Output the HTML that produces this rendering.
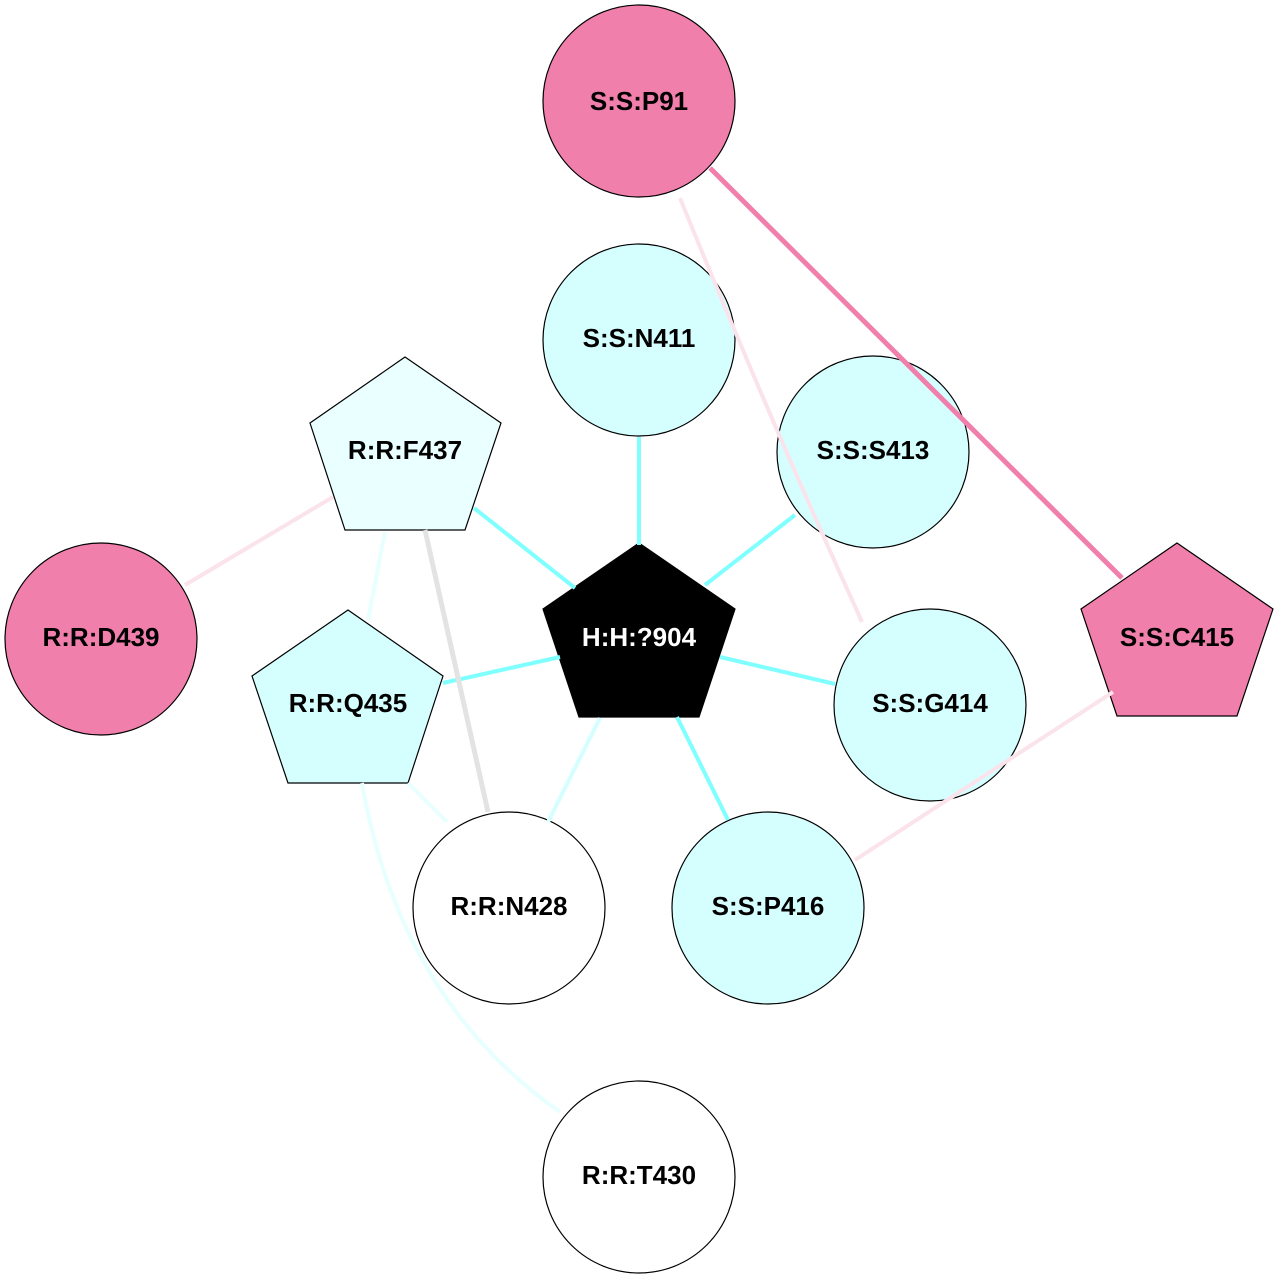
<!DOCTYPE html>
<html><head><style>html,body{margin:0;padding:0;background:#fff}svg{display:block}text{font-family:"Liberation Sans",Arial,sans-serif;font-weight:bold;font-size:26px;text-anchor:middle;dominant-baseline:central}</style></head>
<body>
<svg width="1278" height="1278" viewBox="0 0 1278 1278" xmlns="http://www.w3.org/2000/svg">
<g stroke="#000" stroke-width="1.2">
<circle cx="639" cy="101" r="96" fill="#f07fac"/>
<circle cx="101" cy="639" r="96" fill="#f07fac"/>
<circle cx="639" cy="340" r="96" fill="#d5ffff"/>
<circle cx="873" cy="452" r="96" fill="#d5ffff"/>
<circle cx="930" cy="705" r="96" fill="#d5ffff"/>
<circle cx="768" cy="908" r="96" fill="#d5ffff"/>
<circle cx="509" cy="908" r="96" fill="#fff"/>
<circle cx="639" cy="1177" r="96" fill="#fff"/>
<polygon points="639,543 735,609 699,717 579,717 543,609" fill="#000"/>
<polygon points="405,357 501,423 465,530 345,530 310,423" fill="#eaffff"/>
<polygon points="348,610 443,676 408,783 288,783 252,676" fill="#d5ffff"/>
<polygon points="1177,543 1273,609 1237,716 1117,716 1081,609" fill="#f07fac"/>
</g>
<g fill="none" stroke-width="4">
<path d="M680,198 Q770,420 862,622" stroke="#fbe3ec"/>
<line x1="185" y1="585" x2="333" y2="497" stroke="#fbe3ec"/>
<line x1="1113" y1="692" x2="855" y2="860" stroke="#fbe3ec"/>
<line x1="710" y1="168" x2="1122" y2="578" stroke="#f07fac" stroke-width="5"/>
<line x1="639" y1="437" x2="639" y2="545" stroke="#80ffff"/>
<line x1="705" y1="585" x2="795" y2="515" stroke="#80ffff"/>
<line x1="474" y1="508" x2="575" y2="588" stroke="#80ffff"/>
<line x1="720" y1="657" x2="835" y2="684" stroke="#80ffff"/>
<line x1="443" y1="683" x2="560" y2="657" stroke="#80ffff"/>
<line x1="677" y1="717" x2="728" y2="820" stroke="#80ffff"/>
<line x1="600" y1="718" x2="548" y2="822" stroke="#d5ffff"/>
<line x1="425" y1="530" x2="488" y2="812" stroke="#e3e3e3" stroke-width="5"/>
<line x1="385" y1="532" x2="368" y2="620" stroke="#e8ffff"/>
<line x1="408" y1="783" x2="447" y2="822" stroke="#e8ffff"/>
<path d="M362,783 Q400,1000 560,1112" stroke="#e8ffff"/>
</g>
<text x="639" y="101">S:S:P91</text>
<text x="101" y="637">R:R:D439</text>
<text x="639" y="338">S:S:N411</text>
<text x="873" y="450">S:S:S413</text>
<text x="930" y="703">S:S:G414</text>
<text x="768" y="906">S:S:P416</text>
<text x="509" y="906">R:R:N428</text>
<text x="639" y="1175">R:R:T430</text>
<text x="639" y="637" fill="#fff">H:H:?904</text>
<text x="405" y="450">R:R:F437</text>
<text x="348" y="703">R:R:Q435</text>
<text x="1177" y="637">S:S:C415</text>
</svg>
</body></html>
